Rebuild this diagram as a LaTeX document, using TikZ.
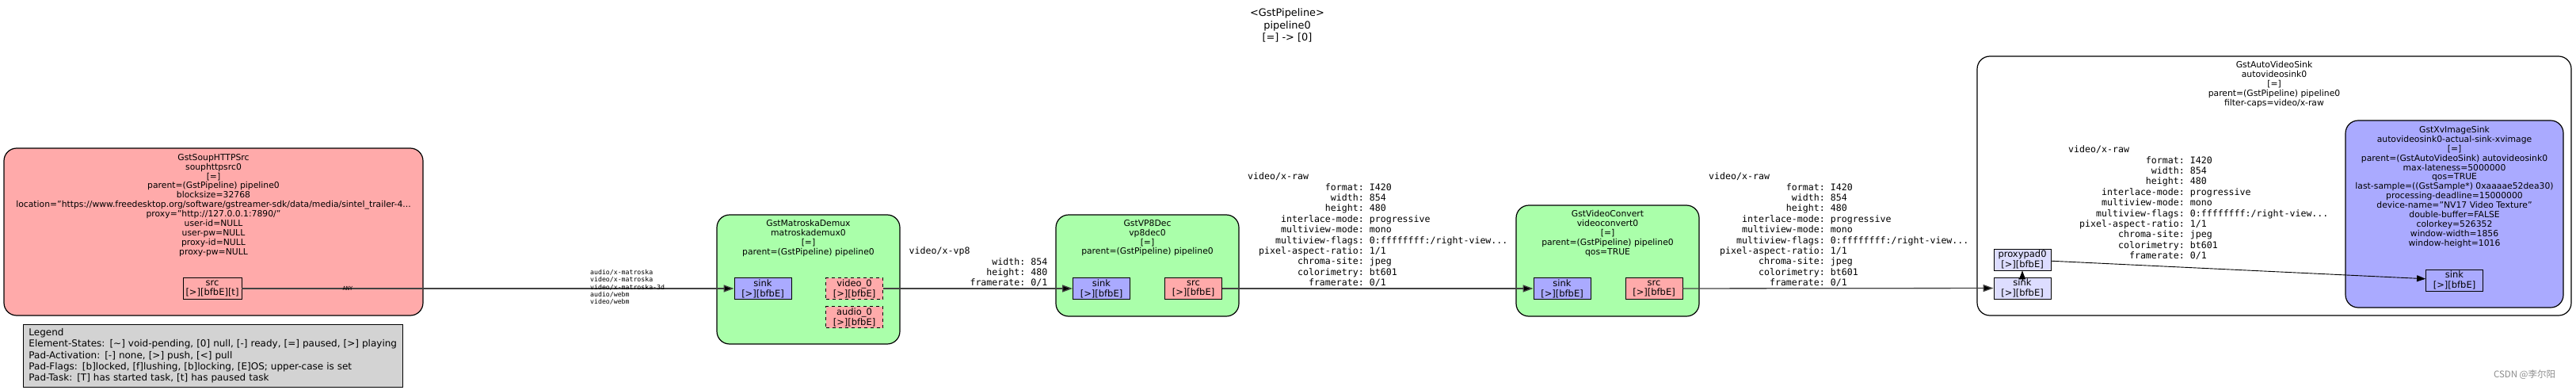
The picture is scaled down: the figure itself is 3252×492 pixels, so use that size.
\documentclass[tikz,border=0pt]{standalone}
\usepackage{fontspec}
\setmainfont{DejaVu Sans}
\setmonofont{DejaVu Sans Mono}
\newfontfamily\cjkfont{Noto Sans CJK SC}
\usetikzlibrary{arrows.meta}
\definecolor{srcfill}{HTML}{FFAAAA}
\definecolor{filterfill}{HTML}{AAFFAA}
\definecolor{sinkfill}{HTML}{AAAAFF}
\definecolor{ghostfill}{HTML}{DDDDFF}
\definecolor{legendfill}{HTML}{D3D3D3}
\definecolor{linkgray}{HTML}{424242}
% caps field: name padded to 18 chars, 2 leading blanks
\newcommand{\capf}[2]{\makebox[12.04em][r]{#1}: #2}
\newcommand{\rawcaps}{video/x-raw\\ \capf{format}{I420}\\ \capf{width}{854}\\ \capf{height}{480}\\
  \capf{interlace-mode}{progressive}\\ \capf{multiview-mode}{mono}\\
  \capf{multiview-flags}{0:ffffffff:/right-view...}\\ \capf{pixel-aspect-ratio}{1/1}\\
  \capf{chroma-site}{jpeg}\\ \capf{colorimetry}{bt601}\\ \capf{framerate}{0/1}}
\begin{document}
\begin{tikzpicture}[x=1pt,y=-1pt,
  element_box/.style={draw=black,line width=1.2pt,rounded corners=16pt,inner sep=0pt},
  element_label/.style={align=center,inner sep=0pt,anchor=north,font=\fontsize{10.8}{11.9}\selectfont},
  pad_style/.style={draw=black,line width=0.9pt,minimum width=72pt,minimum height=27pt,inner sep=0pt,
    align=center,font=\fontsize{11.5}{12.8}\selectfont},
  pad_sink/.style={pad_style,fill=sinkfill},
  pad_src/.style={pad_style,fill=srcfill},
  pad_ghost/.style={pad_style,fill=ghostfill},
  pad_sometimes/.style={pad_src,dash pattern=on 4pt off 4pt},
  caps_label/.style={align=left,inner sep=0pt,anchor=north west,font=\ttfamily\fontsize{11.6}{13.4}\selectfont},
  link_style/.style={draw=linkgray,line width=1.3pt,-{Triangle[length=13pt,width=9pt]}},
  ghost_link/.style={draw=black,line width=0.9pt,-{Triangle[length=11pt,width=8pt]}}]
\useasboundingbox (0,0) rectangle (3252,492);

% pipeline title
\node[align=center,inner sep=0pt,anchor=north,font=\fontsize{12.9}{15.5}\selectfont] (pipeline0) at (1625,11)
  {<GstPipeline>\\pipeline0\\{}[=] -> [0]};

% elements
\node[element_box,fill=srcfill,minimum width=529pt,minimum height=211pt] (souphttpsrc0) at (269.5,292.5) {};
\node[element_box,fill=filterfill,minimum width=231pt,minimum height=163pt] (matroskademux0) at (1020.5,352.5) {};
\node[element_box,fill=filterfill,minimum width=231pt,minimum height=128pt] (vp8dec0) at (1448.5,335) {};
\node[element_box,fill=filterfill,minimum width=231pt,minimum height=140pt] (videoconvert0) at (2029.5,329) {};
\node[element_box,fill=white,minimum width=750pt,minimum height=327pt] (autovideosink0) at (2871,234.5) {};
\node[element_box,fill=sinkfill,minimum width=275pt,minimum height=236pt] (xvimagesink) at (3098.5,270) {};

\node[element_label] (soup_label) at (269.5,194) {GstSoupHTTPSrc\\souphttpsrc0\\{}[=]\\parent=(GstPipeline) pipeline0\\
  blocksize=32768\\location="https://www.freedesktop.org/software/gstreamer-sdk/data/media/sintel\_trailer-4...\\
  proxy="http://127.0.0.1:7890/"\\user-id=NULL\\user-pw=NULL\\proxy-id=NULL\\proxy-pw=NULL};
\node[element_label] (demux_label) at (1020.5,277) {GstMatroskaDemux\\matroskademux0\\{}[=]\\parent=(GstPipeline) pipeline0};
\node[element_label] (vp8_label) at (1448.5,277) {GstVP8Dec\\vp8dec0\\{}[=]\\parent=(GstPipeline) pipeline0};
\node[element_label] (convert_label) at (2029.5,265) {GstVideoConvert\\videoconvert0\\{}[=]\\parent=(GstPipeline) pipeline0\\qos=TRUE};
\node[element_label] (avs_label) at (2871,77) {GstAutoVideoSink\\autovideosink0\\{}[=]\\parent=(GstPipeline) pipeline0\\filter-caps=video/x-raw};
\node[element_label] (xv_label) at (3098.5,159) {GstXvImageSink\\autovideosink0-actual-sink-xvimage\\{}[=]\\
  parent=(GstAutoVideoSink) autovideosink0\\max-lateness=5000000\\qos=TRUE\\
  last-sample=((GstSample*) 0xaaaae52dea30)\\processing-deadline=15000000\\device-name="NV17 Video Texture"\\
  double-buffer=FALSE\\colorkey=526352\\window-width=1856\\window-height=1016};

% pads
\node[pad_src,minimum width=74pt] (soup_src) at (268,364) {src\\{}[>][bfbE][t]};
\node[pad_sink] (demux_sink) at (963,364) {sink\\{}[>][bfbE]};
\node[pad_sometimes] (demux_video) at (1078.5,364) {video\_0\\{}[>][bfbE]};
\node[pad_sometimes] (demux_audio) at (1078.5,400) {audio\_0\\{}[>][bfbE]};
\node[pad_sink] (vp8_sink) at (1390.5,364) {sink\\{}[>][bfbE]};
\node[pad_src] (vp8_src) at (1506.5,364) {src\\{}[>][bfbE]};
\node[pad_sink] (convert_sink) at (1972,364) {sink\\{}[>][bfbE]};
\node[pad_src] (convert_src) at (2088,364) {src\\{}[>][bfbE]};
\node[pad_ghost] (proxypad0) at (2553,327.5) {proxypad0\\{}[>][bfbE]};
\node[pad_ghost] (avs_sink) at (2553,363.5) {sink\\{}[>][bfbE]};
\node[pad_sink] (xv_sink) at (3098.5,353.5) {sink\\{}[>][bfbE]};

% links
\draw[link_style] (soup_src) edge node[pos=0.215,inner sep=0pt,font=\ttfamily\fontsize{7}{8}\selectfont]{ANY} (demux_sink);
\draw[link_style] (demux_video) edge (vp8_sink);
\draw[link_style] (vp8_src) edge (convert_sink);
\draw[link_style] (convert_src) edge (avs_sink);
\draw[ghost_link] ([yshift=-4pt]avs_sink.north) -- (proxypad0.south);
\draw[ghost_link] (proxypad0) -- (xv_sink);

% caps
\node[caps_label,font=\ttfamily\fontsize{8.2}{9.2}\selectfont] (demux_caps) at (745,340.3)
  {audio/x-matroska\\video/x-matroska\\video/x-matroska-3d\\audio/webm\\video/webm};
\node[caps_label] (vp8_caps) at (1147.5,311.7) {video/x-vp8\\ \capf{width}{854}\\ \capf{height}{480}\\ \capf{framerate}{0/1}};
\node[caps_label] (raw_caps_a) at (1575,217.7) {\rawcaps};
\node[caps_label] (raw_caps_b) at (2157,217.7) {\rawcaps};
\node[caps_label] (raw_caps_c) at (2611,183.7) {\rawcaps};

% legend
\node[draw=black,line width=0.9pt,fill=legendfill,anchor=north west,align=left,text width=465pt,
  inner xsep=7pt,inner ysep=5pt,font=\fontsize{12}{14.3}\selectfont] (legend) at (29,409)
  {Legend\\Element-States: [\textasciitilde] void-pending, [0] null, [-] ready, [=] paused, [>] playing\\
  Pad-Activation: [-] none, [>] push, [<] pull\\
  Pad-Flags: [b]locked, [f]lushing, [b]locking, [E]OS; upper-case is set\\
  Pad-Task: [T] has started task, [t] has paused task};

\node[text=black!45,inner sep=0pt,font=\cjkfont\fontsize{11.5}{13}\selectfont] (csdn_mark) at (3187,473) {CSDN @李尔阳};
\end{tikzpicture}
\end{document}
